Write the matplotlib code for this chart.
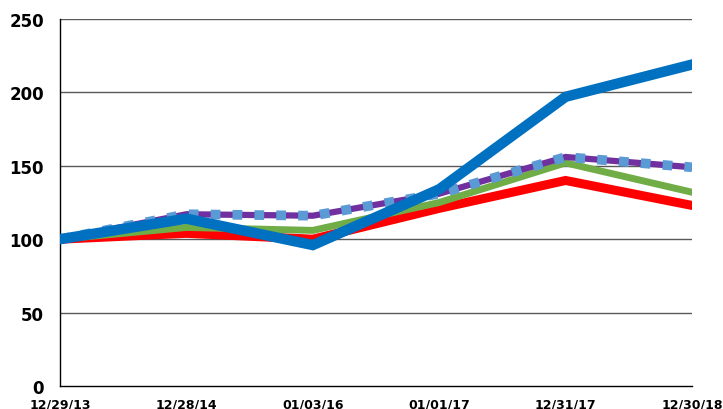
import matplotlib
matplotlib.use("Agg")
import matplotlib.pyplot as plt

dates = ["12/29/13", "12/28/14", "01/03/16", "01/01/17", "12/31/17", "12/30/18"]
red_vals = [100, 104, 100, 121, 140, 123]
green_vals = [100, 108, 106, 125, 152, 132]
purple_vals = [100, 117, 116, 131, 156, 149]
blue_vals = [100, 114, 96, 134, 197, 219]
yticks = [0, 50, 100, 150, 200, 250]

fig = plt.figure(figsize=(7.23, 4.10), dpi=100)
ax = fig.add_axes([60/723, 1-387/410, 632/723, 367/410])
x = list(range(len(dates)))

for y in yticks[1:]:
    ax.axhline(y, color="#595959", lw=1.0, zorder=1)

ax.plot(x, red_vals, color="#FF0000", lw=6.5, solid_joinstyle="miter", zorder=2)
ax.plot(x, green_vals, color="#70AD47", lw=5, solid_joinstyle="miter", zorder=3)
ax.plot(x, purple_vals, color="#7030A0", lw=4.5, solid_joinstyle="miter", zorder=4)
ax.plot(x, purple_vals, color="#5B9BD5", lw=7, dashes=(1.0, 1.25), dash_capstyle="butt", zorder=5)
ax.plot(x, blue_vals, color="#0070C0", lw=7.5, solid_joinstyle="miter", zorder=6)

ax.set_xlim(0, len(dates)-1)
ax.set_ylim(0, 250)
ax.set_yticks(yticks)
ax.set_yticklabels([str(v) for v in yticks], fontsize=12, fontweight="bold")
ax.set_xticks(x)
ax.set_xticklabels(dates, fontsize=9, fontweight="bold")
ax.tick_params(axis="both", length=0)
ax.tick_params(axis="y", pad=11.5)
ax.tick_params(axis="x", pad=8)
for s in ["top", "right"]:
    ax.spines[s].set_visible(False)
for s in ["left", "bottom"]:
    ax.spines[s].set_color("black")
    ax.spines[s].set_linewidth(1.0)

fig.savefig("out.png", dpi=100)
